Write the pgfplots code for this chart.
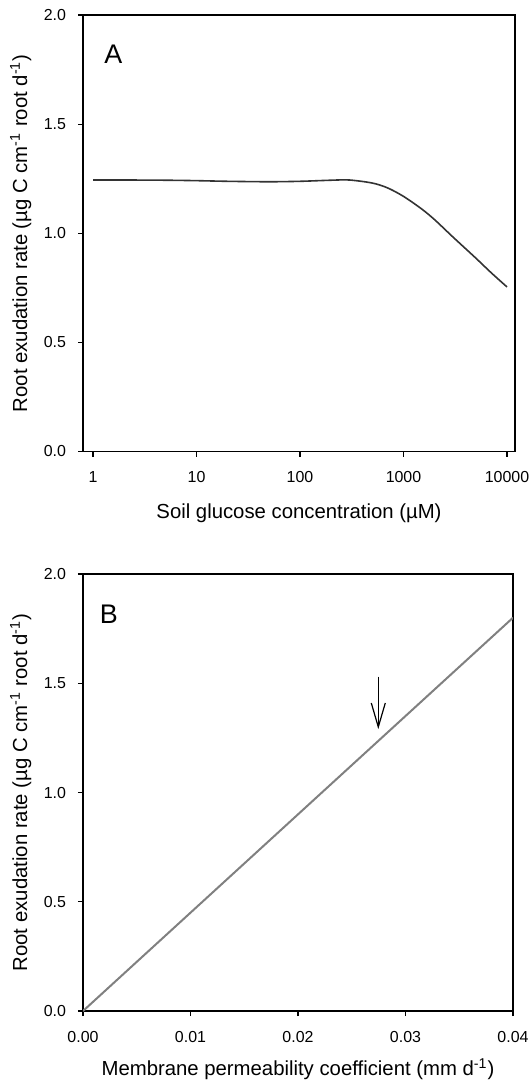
\documentclass[border=0pt]{standalone}
\usepackage{fontspec}
\setmainfont{Liberation Sans}
\usepackage{pgfplots}
\pgfplotsset{compat=1.18}
\usetikzlibrary{arrows.meta}

\pgfplotstableread{
conc rate
1 1.244
2 1.244
5 1.243
10 1.241
20 1.238
50 1.236
100 1.238
200 1.243
300 1.244
500 1.230
700 1.208
1000 1.169
1500 1.111
2000 1.062
3000 0.983
5000 0.886
7000 0.82
10000 0.754
}\glucose

\pgfplotstableread{
perm rate
0 0
0.04 1.8
}\permeab

\pgfplotsset{
  panel/.style={
    scale only axis,
    ymin=0, ymax=2,
    ytick={0,0.5,1,1.5,2},
    yticklabel style={/pgf/number format/fixed, /pgf/number format/fixed zerofill, /pgf/number format/precision=1},
    tick align=outside,
    tick pos=left,
    major tick length=2.5bp,
    axis line style={line width=0.7bp},
    every tick/.style={black, line width=0.6bp},
    tick label style={font=\fontsize{8}{9.6}\selectfont},
    /pgf/number format/assume math mode=true,
    xticklabel style={yshift=-4bp},
    yticklabel style={xshift=-2.5bp},
    label style={font=\fontsize{10.2}{12}\selectfont},
    ylabel={Root exudation rate (µg C cm\textsuperscript{-1} root d\textsuperscript{-1})},
  },
}

\begin{document}
\begin{tikzpicture}
\path[use as bounding box] (0bp,0bp) rectangle (265.5bp,-543.5bp);

\begin{axis}[panel,
  at={(41.5bp,-225.75bp)}, anchor=south west,
  width=216bp, height=218.25bp,
  xmode=log, xmin=0.8, xmax=11950,
  xtick={1,10,100,1000,10000},
  xticklabels={1,10,100,1000,10000},
  xminorticks=false,
  xlabel={Soil glucose concentration (µM)},
  xlabel style={at={(axis description cs:0.5,-0.1546)}, anchor=base},
  ylabel style={at={(axis description cs:-0.1296,0.5)}, anchor=base},
]
\addplot[color=black!80, line width=0.8bp, smooth] table[x=conc, y=rate] {\glucose};
\node[anchor=base west, inner sep=0, font=\fontsize{13.5}{14}\selectfont] at (axis description cs:0.0486,0.89) {A};
\end{axis}

\begin{axis}[panel,
  at={(41.5bp,-505.5bp)}, anchor=south west,
  width=215bp, height=218.5bp,
  xmin=0, xmax=0.04,
  xtick={0,0.01,0.02,0.03,0.04},
  xticklabel style={/pgf/number format/fixed, /pgf/number format/fixed zerofill, /pgf/number format/precision=2},
  scaled x ticks=false,
  xlabel={Membrane permeability coefficient (mm d\textsuperscript{-1})},
  xlabel style={at={(axis description cs:0.5,-0.1476)}, anchor=base},
  ylabel style={at={(axis description cs:-0.1302,0.5)}, anchor=base},
]
\addplot[color=black!50, line width=1bp] table[x=perm, y=rate] {\permeab};
\draw[line width=0.6bp, -{Straight Barb[length=12bp, width=7bp]}] (axis cs:0.02747,1.53) -- (axis cs:0.02747,1.29);
\node[anchor=base west, inner sep=0, font=\fontsize{13.5}{14}\selectfont] at (axis description cs:0.0386,0.886) {B};
\end{axis}
\end{tikzpicture}
\end{document}
